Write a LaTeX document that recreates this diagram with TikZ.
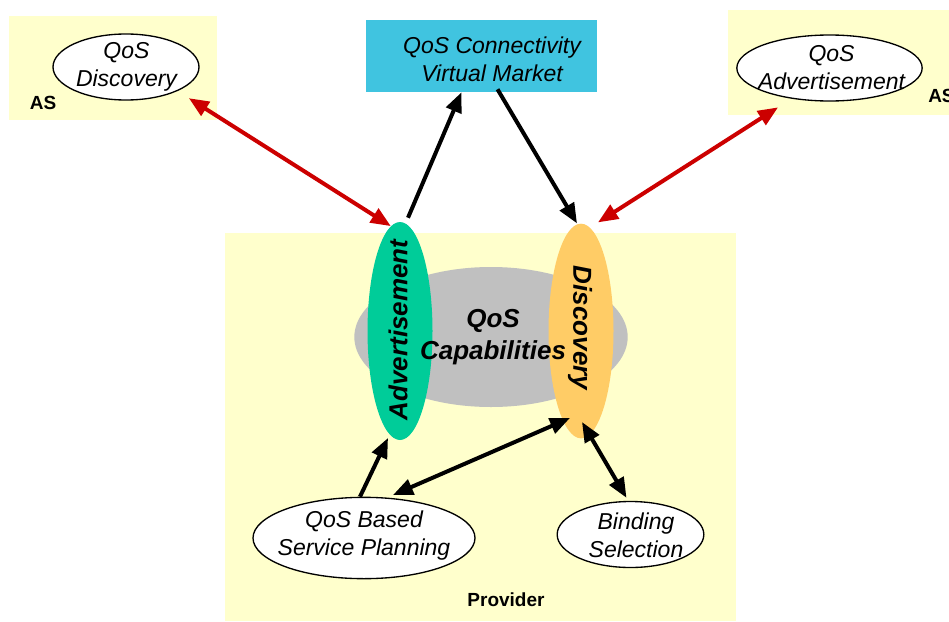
\documentclass[tikz,border=0pt]{standalone}
\usepackage{fontspec}
\setmainfont{Liberation Sans}
\usetikzlibrary{shapes.geometric,arrows.meta,calc}
\definecolor{paleyellow}{HTML}{FFFFCC}
\definecolor{marketblue}{HTML}{40C4E0}
\definecolor{advgreen}{HTML}{00CC99}
\definecolor{discorange}{HTML}{FFCC66}
\definecolor{capgray}{HTML}{C0C0C0}
\definecolor{linkred}{HTML}{CC0000}
\tikzset{
  wellipse/.style={ellipse,draw=black,line width=1pt,fill=white,inner sep=0pt},
  solidell/.style={ellipse,inner sep=0pt},
  itext/.style={inner sep=0.75pt,align=center,font=\itshape\fontsize{17.25}{21}\selectfont},
  boldlbl/.style={inner sep=0.75pt,font=\bfseries\fontsize{14.25}{17}\selectfont},
  biglbl/.style={inner sep=0.75pt,align=center,font=\bfseries\itshape\fontsize{19.5}{24}\selectfont},
  flow/.style={line width=3pt,>={Triangle[length=15pt,width=12pt]}},
}
\begin{document}
\begin{tikzpicture}[x=0.75pt,y=0.75pt,yscale=-1,xscale=1]
\useasboundingbox (0,0) rectangle (949,621);
% Backgrounds
\fill[paleyellow] (9,16) rectangle (217,120);
\fill[paleyellow] (728,10) rectangle (949,115);
\fill[paleyellow] (225,233) rectangle (736,621);
% Market
\draw (481.5,56) node [fill=marketblue,minimum width=173pt,minimum height=54pt,inner sep=0pt] (market) {};
\draw (492,59) node [itext] (markettext) {QoS Connectivity\\Virtual Market};
% AS nodes
\draw (126,67) node [wellipse,minimum width=109.5pt,minimum height=49.5pt] (qdisc) {};
\draw (126.5,67) node [itext] (qdisctext) {QoS\\Discovery};
\draw (43,103) node [boldlbl] (asleft) {AS};
\draw (829.5,68) node [wellipse,minimum width=139pt,minimum height=49.5pt] (qadv) {};
\draw (831.5,68) node [itext] (qadvtext) {QoS\\Advertisement};
\draw (927,96) node [boldlbl,anchor=west] (asright) {AS};
% Provider
\draw (491,337) node [solidell,fill=capgray,minimum width=205pt,minimum height=105pt] (caps) {};
\draw (400,331) node [solidell,fill=advgreen,minimum width=48.75pt,minimum height=163.5pt] (adv) {};
\draw (581,331) node [solidell,fill=discorange,minimum width=48.75pt,minimum height=161pt] (disc) {};
\draw (398,330) node [biglbl,rotate=90] (advtext) {Advertisement};
\draw (580,328) node [biglbl,rotate=-90] (disctext) {Discovery};
\draw (493,337) node [biglbl] (capstext) {QoS\\Capabilities};
\draw (364,538) node [wellipse,minimum width=166.5pt,minimum height=61pt] (plan) {};
\draw (364,536) node [itext] (plantext) {QoS Based\\Service Planning};
\draw (630.5,534.5) node [wellipse,minimum width=110pt,minimum height=49.5pt] (bind) {};
\draw (636,535) node [itext] (bindtext) {Binding\\Selection};
\draw (506,600) node [boldlbl] (provider) {Provider};
% Red links
\draw[flow,linkred,<->,shorten <=10pt] (qdisc.-25) -- (adv.95);
\draw[flow,linkred,<->,shorten >=12pt] ($(disc.north)+(17,-1)$) -- (qadv.219);
% Black links
\draw[flow,->] ($(adv.north)+(8,-4)$) -- ($(market.south)+(-20,0)$);
\draw[flow,->] ($(market.south)+(16,-3)$) -- ($(disc.north)+(-4,0)$);
\draw[flow,->] ($(plan.north)+(-4,0)$) -- ($(adv.center)+(-12,107)$);
\draw[flow,<->] ($(plan.center)+(29,-43)$) -- ($(disc.center)+(-11,87)$);
\draw[flow,<->] ($(disc.center)+(1,91)$) -- ($(bind.north)+(-4,-3)$);
\end{tikzpicture}
\end{document}
